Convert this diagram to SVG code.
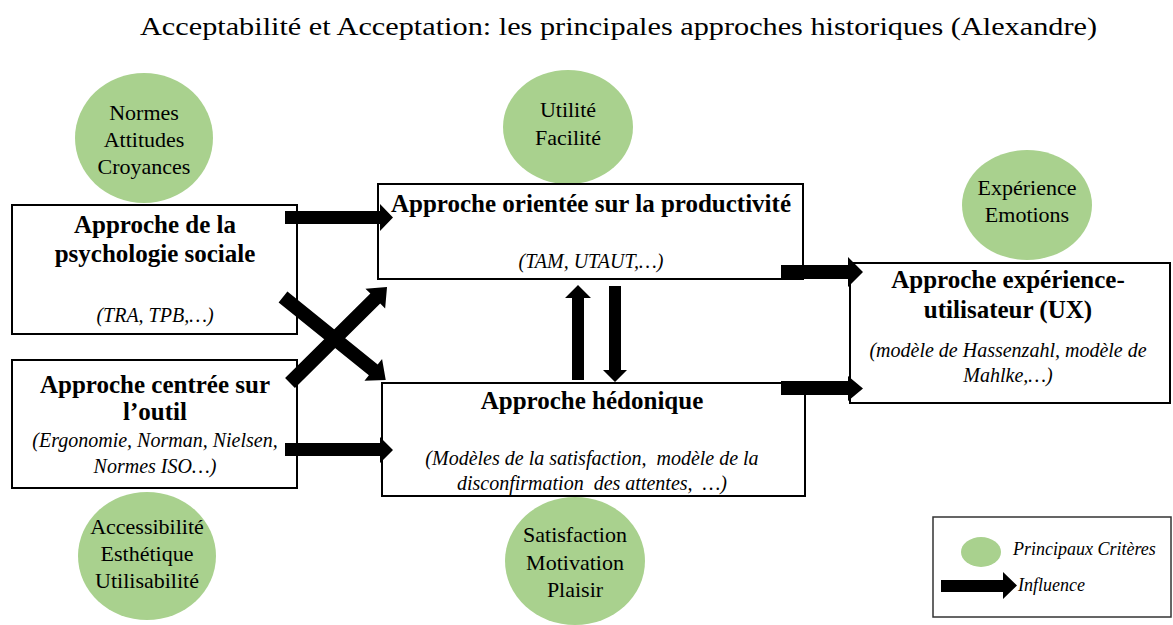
<svg xmlns="http://www.w3.org/2000/svg" width="1173" height="625" viewBox="0 0 1173 625">
<style>
text{font-family:"Liberation Serif","Times New Roman",serif;fill:#000}
.title{font-size:26px}
.crit{font-size:22px;text-anchor:middle}
.bt{font-size:25px;font-weight:bold;text-anchor:middle}
.it{font-size:20px;font-style:italic;text-anchor:middle}
.lg{font-size:18px;font-style:italic}
.circ{fill:#A9D18E}
.box{fill:#fff;stroke:#000;stroke-width:2}
.arr{fill:#000}
</style>
<rect width="1173" height="625" fill="#fff"/>
<text class="title" x="140" y="35" textLength="957" lengthAdjust="spacingAndGlyphs">Acceptabilité et Acceptation: les principales approches historiques (Alexandre)</text>

<g id="crit-normes">
<ellipse class="circ" cx="144" cy="138" rx="69" ry="65"/>
<text class="crit" x="144" y="120">Normes</text>
<text class="crit" x="144" y="147">Attitudes</text>
<text class="crit" x="144" y="174">Croyances</text>
</g>
<g id="crit-utilite">
<ellipse class="circ" cx="568" cy="127" rx="65" ry="57"/>
<text class="crit" x="568" y="117">Utilité</text>
<text class="crit" x="568" y="145">Facilité</text>
</g>
<g id="crit-experience">
<ellipse class="circ" cx="1027" cy="205" rx="65" ry="55"/>
<text class="crit" x="1027" y="195">Expérience</text>
<text class="crit" x="1027" y="222">Emotions</text>
</g>
<g id="crit-accessibilite">
<ellipse class="circ" cx="147" cy="556" rx="69" ry="64"/>
<text class="crit" x="147" y="534">Accessibilité</text>
<text class="crit" x="147" y="561">Esthétique</text>
<text class="crit" x="147" y="588">Utilisabilité</text>
</g>
<g id="crit-satisfaction">
<ellipse class="circ" cx="575" cy="561" rx="70" ry="64"/>
<text class="crit" x="575" y="542">Satisfaction</text>
<text class="crit" x="575" y="570">Motivation</text>
<text class="crit" x="575" y="597">Plaisir</text>
</g>

<g id="psycho-sociale">
<rect class="box" x="12" y="205" width="285" height="129"/>
<text class="bt" x="155" y="233">Approche de la</text>
<text class="bt" x="155" y="262">psychologie sociale</text>
<text class="it" x="155" y="322">(TRA, TPB,…)</text>
</g>
<g id="outil">
<rect class="box" x="12" y="360" width="285" height="128"/>
<text class="bt" x="155" y="393">Approche centrée sur</text>
<text class="bt" x="155" y="420">l’outil</text>
<text class="it" x="155" y="447">(Ergonomie, Norman, Nielsen,</text>
<text class="it" x="155" y="473">Normes ISO…)</text>
</g>
<g id="productivite">
<rect class="box" x="378" y="184" width="425" height="95"/>
<text class="bt" x="591" y="212">Approche orientée sur la productivité</text>
<text class="it" x="591" y="268">(TAM, UTAUT,…)</text>
</g>
<g id="hedonique">
<rect class="box" x="382" y="383" width="423" height="113"/>
<text class="bt" x="592" y="409">Approche hédonique</text>
<text class="it" x="592" y="465" xml:space="preserve">(Modèles de la satisfaction,  modèle de la</text>
<text class="it" x="592" y="490" xml:space="preserve">disconfirmation  des attentes,  …)</text>
</g>
<g id="ux">
<rect class="box" x="850" y="263" width="320" height="140"/>
<text class="bt" x="1008" y="288">Approche expérience-</text>
<text class="bt" x="1008" y="318">utilisateur (UX)</text>
<text class="it" x="1008" y="357">(modèle de Hassenzahl, modèle de</text>
<text class="it" x="1008" y="382">Mahlke,…)</text>
</g>

<g id="connectors">
<polygon class="arr" points="285,211 380,211 380,204 393,217.5 380,231 380,224 285,224"/>
<polygon class="arr" points="285,443 380,443 380,437 393,450 380,463 380,456 285,456"/>
<g transform="translate(283,297) rotate(38.9)"><polygon class="arr" points="0,-7 116,-7 116,-14 132,0 116,14 116,7 0,7"/></g>
<g transform="translate(290,383) rotate(-44.7)"><polygon class="arr" points="0,-7 120,-7 120,-14 136.5,0 120,14 120,7 0,7"/></g>
<polygon class="arr" points="572,380 572,298 565,298 578,285 591,298 584,298 584,380"/>
<polygon class="arr" points="609,286 609,370 603,370 615,382 627,370 621,370 621,286"/>
<polygon class="arr" points="781,265 848,265 848,257 863,272 848,287 848,279 781,279"/>
<polygon class="arr" points="781,381 848,381 848,376 863,388.5 848,401 848,395 781,395"/>
</g>

<g id="legend">
<rect x="933" y="517" width="238" height="100" fill="#fff" stroke="#333" stroke-width="1.5"/>
<ellipse class="circ" cx="981" cy="552" rx="20" ry="15"/>
<text class="lg" x="1013" y="555">Principaux Critères</text>
<polygon class="arr" points="941,580 1003,580 1003,572 1017,585.5 1003,599 1003,592 941,592"/>
<text class="lg" x="1018" y="591">Influence</text>
</g>
</svg>
